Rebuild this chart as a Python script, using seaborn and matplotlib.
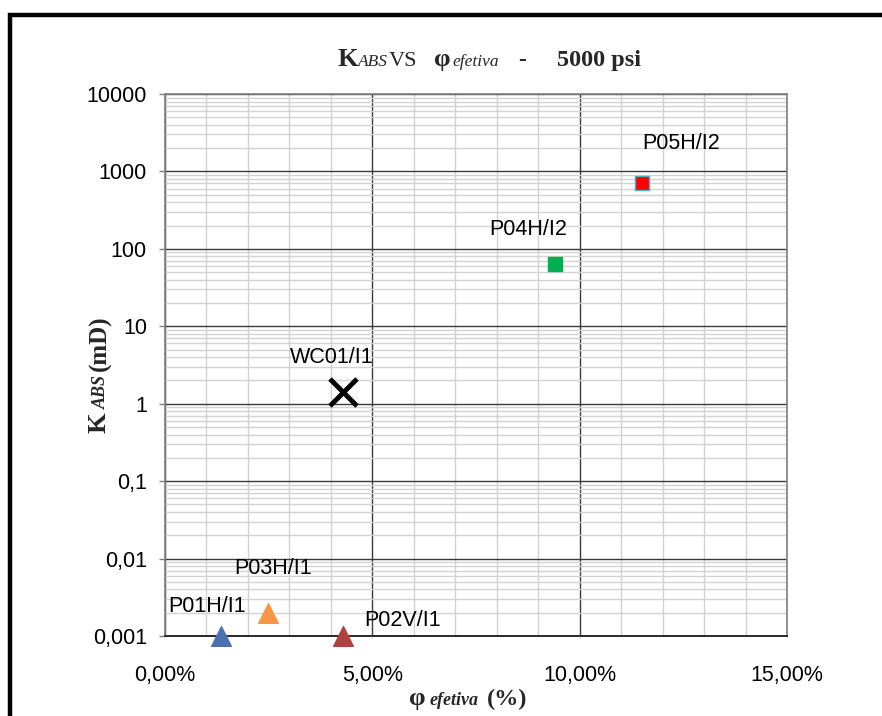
import matplotlib
matplotlib.use("Agg")
import matplotlib.pyplot as plt
import matplotlib.ticker as mticker
import matplotlib.patches as mpatches
import seaborn as sns
import numpy as np

# ---- data ----
names = ["P01H/I1", "P03H/I1", "P02V/I1", "WC01/I1", "P04H/I2", "P05H/I2"]
porosity_pct = [1.35, 2.49, 4.29, 4.30, 9.41, 11.51]
perm_md = [0.001, 0.002, 0.001, 1.43, 63.0, 703.0]
x_ticks = [0, 5, 10, 15]
x_tick_labels = ["0,00%", "5,00%", "10,00%", "15,00%"]
y_ticks = [0.001, 0.01, 0.1, 1, 10, 100, 1000, 10000]
y_tick_labels = ["0,001", "0,01", "0,1", "1", "10", "100", "1000", "10000"]

# ---- styles ----
markers = {"P01H/I1": "^", "P03H/I1": "^", "P02V/I1": "^", "WC01/I1": "x",
           "P04H/I2": "s", "P05H/I2": "s"}
face = {"P01H/I1": "#4a72b0", "P03H/I1": "#f79646", "P02V/I1": "#b04040",
        "WC01/I1": "#000000", "P04H/I2": "#00b050", "P05H/I2": "#ff0000"}
edge = {"P01H/I1": "#4a72b0", "P03H/I1": "#f79646", "P02V/I1": "#b04040",
        "WC01/I1": "#000000", "P04H/I2": "#00b050", "P05H/I2": "#4bacc6"}
sizes = {"^": 200, "x": 380, "s": 90}
label_offsets = {"P01H/I1": (-14, 29), "P03H/I1": (5, 44), "P02V/I1": (60, 16),
                 "WC01/I1": (-12, 34), "P04H/I2": (-27, 35), "P05H/I2": (39, 40)}

sns.set_style("white")
plt.rcParams["font.family"] = ["Liberation Sans", "DejaVu Sans"]

W, H = 882, 716
fig = plt.figure(figsize=(W / 100, H / 100), dpi=100)
ax = fig.add_axes([165 / W, 1 - 636 / H, (787 - 165) / W, (636 - 94) / H])

ax.set_yscale("log")
ax.set_xlim(0, 15)
ax.set_ylim(0.001, 10000)

ax.xaxis.set_major_locator(mticker.FixedLocator(x_ticks))
ax.xaxis.set_minor_locator(mticker.MultipleLocator(1))
ax.yaxis.set_major_locator(mticker.FixedLocator(y_ticks))
ax.yaxis.set_minor_locator(mticker.LogLocator(base=10, subs=np.arange(2, 10), numticks=100))
ax.yaxis.set_minor_formatter(mticker.NullFormatter())
ax.set_xticklabels(x_tick_labels)
ax.set_yticklabels(y_tick_labels)

ax.grid(True, which="minor", color="#d2d2d2", linewidth=1.0, zorder=0)
ax.grid(True, which="major", color="#3a3a3a", linewidth=1.0, zorder=0)
ax.set_axisbelow(True)

ax.tick_params(axis="y", which="major", direction="out", length=4, width=1,
               color="#808080", pad=9, labelsize=15.5, labelcolor="#000000", left=True)
ax.tick_params(axis="y", which="minor", length=0)
ax.tick_params(axis="x", which="both", length=0, pad=21, labelsize=15.5, labelcolor="#000000")

for s in ["left", "right", "top"]:
    ax.spines[s].set_color("#808080")
    ax.spines[s].set_linewidth(1.2)
ax.spines["bottom"].set_color("#2a2a2a")
ax.spines["bottom"].set_linewidth(1.4)

for n, xv, yv in zip(names, porosity_pct, perm_md):
    m = markers[n]
    if m == "x":
        sns.scatterplot(x=[xv], y=[yv], marker="x", color=face[n], s=sizes[m],
                        linewidth=3.5, ax=ax, zorder=5, legend=False)
    else:
        sns.scatterplot(x=[xv], y=[yv], marker=m, color=face[n], edgecolor=edge[n],
                        s=sizes[m], linewidth=1.0, ax=ax, zorder=5, legend=False,
                        clip_on=False)
    ax.annotate(n, xy=(xv, yv), xytext=label_offsets[n], textcoords="offset pixels",
                ha="center", va="center", fontsize=15.5, color="#000000",
                annotation_clip=False, zorder=6)

ax.set_xlabel("")
ax.set_ylabel("")

serif = "Liberation Serif"

def ftext(px, py, s, **kw):
    fig.text(px / W, 1 - py / H, s, family=serif, va="baseline", ha="left", **kw)

# title pieces
ftext(337, 66, "K", fontsize=19, fontweight="bold")
ftext(358, 66, "ABS", fontsize=12.5, fontstyle="italic")
ftext(389, 66, "VS", fontsize=16)
ftext(434, 66, "φ", fontsize=19, fontweight="bold")
ftext(452, 66, "efetiva", fontsize=12.5, fontstyle="italic")
ftext(518, 66, "-", fontsize=17, fontweight="bold")
ftext(557, 66, "5000 psi", fontsize=17.5, fontweight="bold")

# x label pieces
ftext(409, 705, "φ", fontsize=19, fontweight="bold")
ftext(430, 705, "efetiva", fontsize=13, fontweight="bold", fontstyle="italic")
ftext(487, 705, "(%)", fontsize=17.5, fontweight="bold")

# y label pieces (rotated)
def ytext(py, s, **kw):
    fig.text(106 / W, 1 - py / H, s, family=serif, rotation=90, rotation_mode="anchor",
             ha="left", va="baseline", **kw)

ytext(433, "K", fontsize=19, fontweight="bold")
ytext(409, "ABS", fontsize=13, fontweight="bold", fontstyle="italic")
ytext(371, "(mD)", fontsize=18, fontweight="bold")

# outer frame
fig.patches.append(mpatches.Rectangle((10 / W, -0.1), 1.2, 1 - 15 / H + 0.1,
                                      transform=fig.transFigure, fill=False,
                                      edgecolor="black", linewidth=3.2))

fig.savefig("out.png", dpi=100)
